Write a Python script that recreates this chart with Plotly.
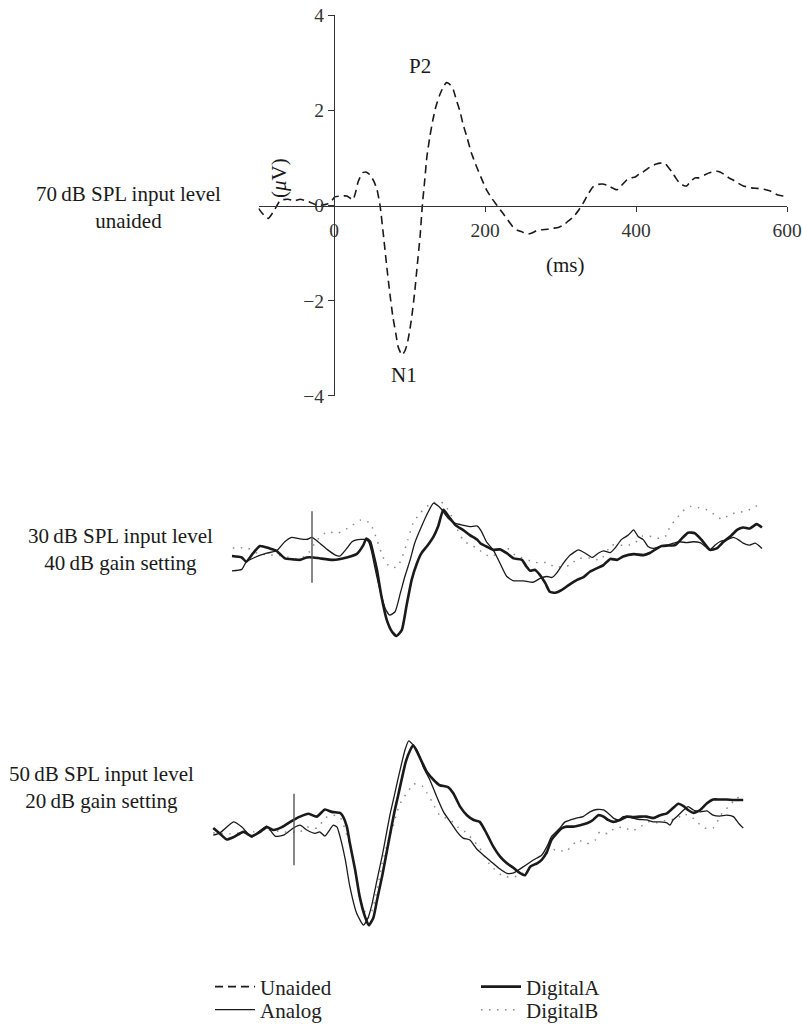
import plotly.graph_objects as go

FONT = "Liberation Serif, Times New Roman, serif"
INK = "#1a1a1a"
AXIS = "#333333"
DOT = "#8a8a8a"

# ---------------- data ----------------
# Top panel: 70 dB SPL input level, unaided (ms, microvolts)
unaided_ms = [-100, -93, -87, -79, -71, -61, -52, -45, -38, -32, -21, -9, -3, 1, 9, 17, 25, 29, 32, 38,
              43, 48, 53, 57, 61, 66, 70, 74, 78, 82, 85, 90, 94, 97, 100, 103, 107, 110, 114, 117,
              120, 123, 127, 131, 135, 140, 145, 149, 153, 158, 162, 167, 171, 176, 182, 189, 195, 202, 209, 216,
              224, 230, 237, 243, 250, 256, 262, 268, 275, 283, 290, 297, 304, 310, 317, 324, 330, 337, 343, 349,
              355, 361, 366, 371, 375, 382, 388, 394, 399, 404, 409, 415, 421, 427, 432, 438, 443, 448, 453, 458,
              463, 467, 472, 478, 483, 487, 492, 496, 502, 507, 512, 518, 523, 528, 535, 542, 548, 553, 560, 567,
              572, 577, 583, 588, 595, 600]
unaided_uv = [-0.06, -0.2, -0.27, -0.1, 0.11, 0.13, 0.1, 0.13, 0.1, 0.07, 0.0, 0.03, 0.1, 0.18, 0.2, 0.2, 0.12, 0.3, 0.5, 0.69,
              0.7, 0.64, 0.5, 0.33, 0, -0.7, -1.3, -1.85, -2.34, -2.7, -2.97, -3.14, -3.05, -2.9, -2.65, -2.34, -1.8, -1.3, -0.65, 0,
              0.5, 1.02, 1.45, 1.8, 2.08, 2.32, 2.5, 2.58, 2.55, 2.43, 2.22, 1.97, 1.7, 1.44, 1.1, 0.81, 0.58, 0.33, 0.15, 0,
              -0.17, -0.3, -0.45, -0.52, -0.56, -0.6, -0.58, -0.53, -0.51, -0.5, -0.48, -0.46, -0.41, -0.33, -0.24, -0.1, 0.05, 0.25, 0.39, 0.44,
              0.45, 0.43, 0.39, 0.35, 0.33, 0.44, 0.54, 0.58, 0.6, 0.66, 0.7, 0.77, 0.83, 0.87, 0.89, 0.89, 0.8, 0.7, 0.57, 0.47,
              0.42, 0.41, 0.5, 0.58, 0.58, 0.6, 0.65, 0.68, 0.71, 0.72, 0.7, 0.64, 0.58, 0.54, 0.47, 0.41, 0.39, 0.37, 0.36, 0.35,
              0.33, 0.31, 0.26, 0.22, 0.2, 0.2]

# Middle panel: 30 dB SPL input level, 40 dB gain setting
mid_analog_ms = [-106, -93, -87, -76, -60, -47, -36, -27, -16, -7, 0, 8, 20, 31, 37, 46, 53, 59, 70, 75,
                 79, 83, 90, 97, 103, 110, 117, 123, 130, 136, 145, 154, 161, 170, 180, 189, 199, 209, 219, 224,
                 231, 240, 249, 258, 267, 280, 293, 302, 311, 318, 324, 333, 342, 353, 362, 371, 379, 386, 395, 401,
                 410, 419, 426, 432, 439, 445, 452, 461, 470, 479, 487, 496, 505, 514, 521, 527, 534, 540, 549, 558,
                 565, 571, 580, 587, 596]
mid_analog_uv = [-0.50, -0.47, -0.31, -0.22, -0.13, -0.08, 0.11, 0.20, 0.17, 0.16, 0.20, 0.11, -0.05, -0.17, -0.19, -0.03, 0.11, 0.15, 0.16, 0.11,
                 -0.10, -0.41, -0.90, -1.29, -1.43, -1.36, -0.97, -0.62, -0.27, 0.08, 0.43, 0.74, 0.92, 0.82, 0.61, 0.50, 0.46, 0.43, 0.44, 0.34,
                 0.11, -0.06, -0.34, -0.62, -0.71, -0.71, -0.74, -0.66, -0.62, -0.64, -0.55, -0.34, -0.17, -0.06, -0.13, -0.22, -0.13, -0.08, -0.12, -0.03,
                 0.16, 0.25, 0.36, 0.22, 0.15, 0.01, -0.03, 0.01, 0.04, 0.08, 0.11, 0.09, 0.11, 0.09, 0.01, -0.06, 0.04, 0.11, 0.15, 0.20,
                 0.15, 0.08, 0.04, 0.08, -0.03]

mid_digA_ms = [-106, -93, -87, -78, -69, -56, -47, -36, -25, -16, -7, 2, 11, 28, 46, 59, 68, 72, 77, 81,
               86, 92, 99, 106, 112, 119, 125, 132, 139, 145, 152, 161, 167, 174, 181, 190, 200, 209, 219, 223,
               231, 240, 249, 258, 267, 278, 284, 289, 295, 302, 309, 315, 322, 331, 340, 351, 359, 368, 377, 386,
               395, 404, 412, 426, 439, 448, 457, 463, 472, 481, 490, 498, 507, 516, 527, 536, 545, 554, 563, 571,
               580, 589, 596]
mid_digA_uv = [-0.19, -0.22, -0.31, -0.13, 0.02, -0.03, -0.08, -0.24, -0.26, -0.27, -0.22, -0.22, -0.24, -0.27, -0.22, -0.15, 0.04, 0.18, 0.11, -0.13,
               -0.48, -1.04, -1.53, -1.78, -1.87, -1.74, -1.25, -0.69, -0.34, -0.13, 0.01, 0.22, 0.43, 0.78, 0.64, 0.46, 0.36, 0.25, 0.15, 0.08,
               0.01, -0.06, -0.05, -0.13, -0.24, -0.27, -0.41, -0.50, -0.48, -0.59, -0.76, -0.94, -0.96, -0.90, -0.80, -0.69, -0.64, -0.52, -0.45, -0.38,
               -0.25, -0.27, -0.20, -0.15, -0.17, -0.12, -0.03, 0.02, 0.03, 0.04, 0.18, 0.30, 0.29, 0.15, -0.06, -0.03, 0.11, 0.22, 0.36, 0.41,
               0.39, 0.48, 0.41]

mid_digB_ms = [-105, -86, -72, -58, -45, -32, -19, -7, 7, 20, 34, 50, 65, 77, 86, 94, 103, 113, 119, 127,
               134, 143, 158, 171, 182, 191, 200, 209, 219, 228, 238, 246, 258, 269, 289, 299, 311, 322, 342, 351,
               368, 382, 397, 417, 428, 438, 450, 461, 470, 474, 483, 490, 501, 511, 523, 534, 543, 554, 564, 576,
               585, 595]
mid_digB_uv = [-0.02, -0.02, -0.13, -0.17, -0.17, -0.21, -0.25, -0.17, 0.15, 0.32, 0.29, 0.42, 0.57, 0.50, 0.15, -0.21, -0.42, -0.42, -0.23, 0.15,
               0.50, 0.71, 0.92, 0.95, 0.74, 0.42, 0.15, 0.04, -0.02, -0.15, -0.20, -0.13, -0.02, -0.17, -0.29, -0.33, -0.33, -0.42, -0.38, -0.25,
               -0.23, -0.27, 0.04, 0.03, 0.09, 0.23, 0.22, 0.18, 0.25, 0.43, 0.60, 0.74, 0.85, 0.83, 0.78, 0.67, 0.58, 0.69, 0.72, 0.76,
               0.83, 0.92]

# Bottom panel: 50 dB SPL input level, 20 dB gain setting
bot_analog_ms = [-107, -98, -80, -69, -56, -47, -36, -25, -14, -1, 8, 17, 28, 34, 41, 52, 57, 61, 68, 74,
                 83, 92, 98, 103, 110, 117, 122, 127, 133, 138, 143, 147, 152, 163, 171, 180, 189, 198, 207, 216,
                 224, 233, 242, 251, 260, 271, 282, 291, 304, 317, 328, 335, 341, 352, 359, 366, 374, 383, 392, 401,
                 410, 419, 423, 430, 436, 443, 449, 458, 467, 476, 485, 494, 498, 502, 509, 516, 522, 529, 538, 547,
                 555, 564, 573, 582, 589, 595]
bot_analog_uv = [-0.12, -0.07, 0.16, 0.05, -0.16, -0.05, 0.07, -0.14, -0.12, 0.03, 0.09, -0.01, -0.08, -0.05, -0.14, 0.09, 0.05, -0.15, -0.64, -1.20,
                 -1.76, -2.01, -1.86, -1.59, -1.06, -0.54, -0.12, 0.30, 0.72, 1.08, 1.42, 1.67, 1.86, 1.67, 1.32, 1.04, 0.69, 0.37, 0.16, -0.05,
                 -0.18, -0.22, -0.41, -0.54, -0.66, -0.81, -0.92, -0.91, -0.78, -0.64, -0.54, -0.36, -0.15, 0.03, 0.16, 0.20, 0.24, 0.27, 0.37, 0.42,
                 0.41, 0.30, 0.24, 0.20, 0.27, 0.27, 0.24, 0.21, 0.20, 0.16, 0.16, 0.14, 0.09, 0.20, 0.30, 0.41, 0.48, 0.41, 0.37, 0.39,
                 0.30, 0.28, 0.30, 0.27, 0.13, 0.03]

bot_digA_ms = [-107, -98, -89, -80, -67, -56, -45, -36, -27, -16, -5, 8, 19, 30, 41, 50, 61, 65, 70, 74,
               81, 87, 94, 99, 105, 110, 117, 122, 127, 133, 138, 143, 148, 154, 158, 167, 176, 185, 193, 204,
               211, 220, 229, 238, 246, 255, 264, 273, 282, 291, 297, 306, 313, 322, 328, 335, 341, 348, 355, 361,
               370, 379, 388, 396, 403, 410, 416, 423, 432, 441, 449, 458, 467, 476, 485, 494, 502, 509, 516, 522,
               529, 538, 547, 555, 564, 573, 582, 595]
bot_digA_uv = [0.03, -0.09, -0.21, -0.16, -0.05, -0.14, -0.05, 0.05, -0.01, 0.05, 0.16, 0.27, 0.33, 0.27, 0.42, 0.37, 0.35, 0.27, 0.06, -0.29,
               -0.85, -1.41, -1.83, -2.01, -1.86, -1.48, -0.96, -0.54, -0.12, 0.37, 0.72, 1.08, 1.42, 1.67, 1.77, 1.50, 1.21, 1.04, 0.93, 0.89,
               0.76, 0.48, 0.30, 0.20, 0.16, -0.08, -0.36, -0.57, -0.71, -0.81, -0.89, -0.96, -0.78, -0.71, -0.64, -0.47, -0.22, -0.08, 0.03, 0.06,
               0.06, 0.09, 0.13, 0.20, 0.30, 0.27, 0.20, 0.16, 0.20, 0.27, 0.26, 0.27, 0.27, 0.24, 0.30, 0.34, 0.45, 0.54, 0.49, 0.41,
               0.35, 0.41, 0.55, 0.63, 0.63, 0.63, 0.62, 0.62]

bot_digB_ms = [-107, -85, -54, -34, -15, 8, 17, 31, 41, 52, 61, 72, 78, 83, 87, 93, 98, 103, 110, 117,
               125, 131, 136, 143, 151, 158, 170, 176, 183, 193, 207, 217, 227, 237, 246, 260, 277, 289, 299, 315,
               329, 336, 348, 359, 368, 376, 388, 399, 405, 416, 425, 436, 448, 458, 469, 481, 494, 507, 515, 527,
               535, 544, 555, 562, 568, 578, 585, 595]
bot_digB_uv = [-0.07, -0.09, -0.05, -0.01, -0.05, -0.05, 0.05, 0.03, 0.24, 0.30, 0.26, -0.22, -0.58, -1.06, -1.42, -1.69, -1.86, -1.73, -1.27, -0.70,
               -0.22, 0.05, 0.35, 0.62, 0.79, 0.96, 0.91, 0.77, 0.58, 0.30, 0.20, 0.05, -0.05, -0.22, -0.39, -0.75, -0.98, -1.00, -0.96, -0.77,
               -0.64, -0.49, -0.41, -0.47, -0.35, -0.22, -0.30, -0.22, -0.05, -0.09, 0.03, 0.05, -0.03, 0.05, 0.16, 0.14, 0.20, 0.22, 0.33, 0.26,
               0.14, 0.03, 0.03, 0.20, 0.37, 0.51, 0.66, 0.68]

# stimulus-onset marker (ms, microvolts)
onset_ms = [0, 0]
onset_uv = [-0.75, 0.75]

x_ticks = [0, 200, 400, 600]
y_ticks = [-4, -2, 0, 2, 4]

panel_labels = [
    "70\u2009dB SPL input level<br>unaided",
    "30\u2009dB SPL input level<br>40\u2009dB gain setting",
    "50\u2009dB SPL input level<br>20\u2009dB gain setting",
]
series_names = ["Unaided", "Analog", "DigitalA", "DigitalB"]

# ---------------- styles ----------------
st_unaided = dict(color=INK, width=1.6, dash="8px,5px")
st_analog = dict(color=INK, width=1.3)
st_digA = dict(color=INK, width=2.6)
st_digB = dict(color=DOT, width=1.5, dash="1.5px,6.5px")

fig = go.Figure()


def add(x, y, xa, ya, style, name, legend, show):
    fig.add_trace(go.Scatter(
        x=x, y=y, mode="lines", line=dict(**style, shape="spline", smoothing=0.5),
        name=name, legendgroup=name, showlegend=show, legend=legend,
        xaxis=xa, yaxis=ya, hoverinfo="skip"))


# legend row 1: Unaided, DigitalA ; legend row 2: Analog, DigitalB
add(unaided_ms, unaided_uv, "x", "y", st_unaided, series_names[0], "legend", True)

add(mid_digB_ms, mid_digB_uv, "x2", "y2", st_digB, series_names[3], "legend2", False)
add(mid_analog_ms, mid_analog_uv, "x2", "y2", st_analog, series_names[1], "legend2", True)
add(mid_digA_ms, mid_digA_uv, "x2", "y2", st_digA, series_names[2], "legend", True)

add(bot_digB_ms, bot_digB_uv, "x3", "y3", st_digB, series_names[3], "legend2", True)
add(bot_analog_ms, bot_analog_uv, "x3", "y3", st_analog, series_names[1], "legend2", False)
add(bot_digA_ms, bot_digA_uv, "x3", "y3", st_digA, series_names[2], "legend", False)

for xa, ya in (("x2", "y2"), ("x3", "y3")):
    fig.add_trace(go.Scatter(x=onset_ms, y=onset_uv, mode="lines",
                             line=dict(color="#555555", width=1.4),
                             showlegend=False, xaxis=xa, yaxis=ya, hoverinfo="skip"))

# ---------------- layout geometry (window pixels -> paper) ----------------
W, H = 802, 1024
PX_PER_MS = 0.755
PX_PER_UV = 47.62


def xp(px):
    return px / W


def yp(py):
    return 1 - py / H


def xdom(zero_px, lo, hi):
    return [xp(zero_px + lo * PX_PER_MS), xp(zero_px + hi * PX_PER_MS)]


def ydom(zero_py, lo, hi):
    return [yp(zero_py - lo * PX_PER_UV), yp(zero_py - hi * PX_PER_UV)]


top_xr, top_yr = [-100, 600], [-4, 4]
top_xd = xdom(334, *top_xr)
top_yd = ydom(205.5, *top_yr)
mid_xr, mid_yr = [-110, 600], [-2.2, 1.3]
bot_xr, bot_yr = [-110, 600], [-2.3, 2.2]

tickfont = dict(family=FONT, size=19.5, color=AXIS)
legfont = dict(family=FONT, size=21, color="#222")

fig.update_layout(
    width=W, height=H, margin=dict(l=0, r=0, t=0, b=0, autoexpand=False),
    paper_bgcolor="white", plot_bgcolor="rgba(0,0,0,0)",
    font=dict(family=FONT, size=21, color=INK),
    hovermode=False,
    xaxis=dict(domain=top_xd, range=top_xr, anchor="free",
               position=(top_yd[0] + top_yd[1]) / 2,
               showline=True, linecolor=AXIS, linewidth=1.2, showgrid=False, zeroline=False,
               ticks="outside", ticklen=5, tickcolor=AXIS, tickvals=x_ticks,
               tickfont=tickfont, ticklabelstandoff=2, ticklabeloverflow="allow"),
    yaxis=dict(domain=top_yd, range=top_yr, anchor="free",
               position=top_xd[0] + (top_xd[1] - top_xd[0]) * (0 - top_xr[0]) / (top_xr[1] - top_xr[0]),
               showline=True, linecolor=AXIS, linewidth=1.2, showgrid=False, zeroline=False,
               ticks="outside", ticklen=6, tickcolor=AXIS, tickvals=y_ticks,
               tickfont=tickfont, ticklabeloverflow="allow"),
    xaxis2=dict(domain=xdom(312, *mid_xr), range=mid_xr, visible=False, anchor="y2"),
    yaxis2=dict(domain=ydom(547, *mid_yr), range=mid_yr, visible=False, anchor="x2"),
    xaxis3=dict(domain=xdom(294, *bot_xr), range=bot_xr, visible=False, anchor="y3"),
    yaxis3=dict(domain=ydom(829.5, *bot_yr), range=bot_yr, visible=False, anchor="x3"),
    legend=dict(orientation="h", x=xp(210), y=yp(987), xanchor="left", yanchor="middle",
                bgcolor="rgba(0,0,0,0)", font=legfont, itemwidth=40,
                entrywidth=211, entrywidthmode="pixels"),
    legend2=dict(orientation="h", x=xp(210), y=yp(1010), xanchor="left", yanchor="middle",
                 bgcolor="rgba(0,0,0,0)", font=legfont, itemwidth=40,
                 entrywidth=211, entrywidthmode="pixels"),
)

ann = [
    dict(text=panel_labels[0], x=xp(128), y=yp(207)),
    dict(text=panel_labels[1], x=xp(120), y=yp(549)),
    dict(text=panel_labels[2], x=xp(102), y=yp(787)),
    dict(text="P2", x=xp(420), y=yp(66)),
    dict(text="N1", x=xp(404), y=yp(375)),
    dict(text="(ms)", x=xp(565), y=yp(265)),
    dict(text="(<i>\u03bc</i>V)", x=xp(279), y=yp(178), textangle=-90),
]
for a in ann:
    fig.add_annotation(xref="paper", yref="paper", showarrow=False,
                       xanchor="center", yanchor="middle", align="center",
                       font=dict(family=FONT, size=21, color=INK), **a)

# remove the browser's default 8px page margin so the figure fills the window exactly
fig.write_html("out.html",
               config={"displayModeBar": False, "staticPlot": True},
               post_script="document.body.style.margin='0';document.body.style.overflow='hidden';")
